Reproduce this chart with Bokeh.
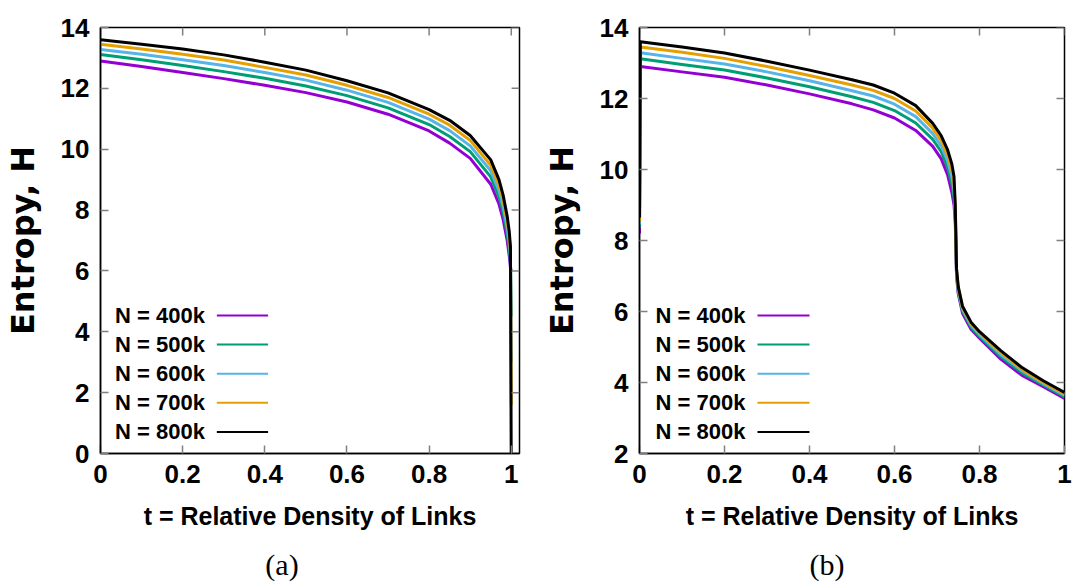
from bokeh.plotting import figure
from bokeh.layouts import row, column
from bokeh.models import Range1d, FixedTicker, ColumnDataSource, NumeralTickFormatter
from bokeh.core.properties import value
from bokeh.embed import file_html
from bokeh.resources import INLINE

# ---------------- data ----------------
series_names = ["N = 400k", "N = 500k", "N = 600k", "N = 700k", "N = 800k"]
series_colors = ["#9400d3", "#009e73", "#56b4e9", "#e69f00", "#000000"]

# panel (a)
t_a = [0, 0.1, 0.2, 0.3, 0.4, 0.5, 0.6, 0.7, 0.8, 0.85, 0.9, 0.95, 0.97, 0.98, 0.99, 0.995, 0.998, 0.9998]
H_a_400k = [12.90, 12.72, 12.52, 12.32, 12.10, 11.86, 11.55, 11.15, 10.60, 10.20, 9.70, 8.85, 8.20, 7.70, 7.00, 6.50, 6.10, 6.00]
H_a_500k = [13.11, 12.94, 12.75, 12.55, 12.33, 12.08, 11.76, 11.36, 10.81, 10.42, 9.92, 9.09, 8.44, 7.94, 7.24, 6.74, 6.31, 4.50]
H_a_600k = [13.28, 13.12, 12.94, 12.75, 12.52, 12.27, 11.94, 11.54, 10.99, 10.61, 10.11, 9.29, 8.64, 8.14, 7.44, 6.94, 6.49, 3.00]
H_a_700k = [13.45, 13.29, 13.12, 12.93, 12.69, 12.44, 12.10, 11.70, 11.15, 10.79, 10.29, 9.47, 8.82, 8.32, 7.62, 7.12, 6.65, 1.60]
H_a_800k = [13.60, 13.45, 13.29, 13.10, 12.86, 12.60, 12.25, 11.85, 11.30, 10.95, 10.45, 9.65, 9.00, 8.50, 7.80, 7.30, 6.80, 0.00]

# panel (b)
t_b = [0, 0.002, 0.1, 0.2, 0.3, 0.4, 0.5, 0.55, 0.6, 0.65, 0.69, 0.71, 0.725, 0.735, 0.74, 0.743,
       0.746, 0.75, 0.76, 0.78, 0.8, 0.85, 0.9, 0.95, 1.0]
H_b_400k = [8.20, 12.90, 12.75, 12.60, 12.38, 12.13, 11.85, 11.68, 11.45, 11.10, 10.65, 10.30, 9.85, 9.35, 9.00, 8.50,
            7.00, 6.50, 5.95, 5.50, 5.25, 4.66, 4.20, 3.88, 3.55]
H_b_500k = [8.35, 13.12, 12.96, 12.80, 12.58, 12.33, 12.05, 11.89, 11.66, 11.31, 10.85, 10.50, 10.06, 9.59, 9.24, 8.65,
            7.06, 6.56, 6.01, 5.56, 5.30, 4.73, 4.27, 3.93, 3.60]
H_b_600k = [8.45, 13.29, 13.13, 12.97, 12.75, 12.50, 12.22, 12.07, 11.84, 11.49, 11.01, 10.66, 10.24, 9.79, 9.44, 8.78,
            7.11, 6.61, 6.06, 5.61, 5.35, 4.79, 4.33, 3.97, 3.64]
H_b_700k = [8.55, 13.45, 13.30, 13.13, 12.90, 12.65, 12.38, 12.23, 12.00, 11.65, 11.16, 10.81, 10.40, 9.97, 9.62, 8.90,
            7.16, 6.66, 6.11, 5.66, 5.39, 4.85, 4.37, 4.00, 3.68]
H_b_800k = [8.65, 13.60, 13.45, 13.28, 13.05, 12.80, 12.53, 12.38, 12.15, 11.80, 11.30, 10.95, 10.55, 10.15, 9.80, 9.00,
            7.20, 6.70, 6.15, 5.70, 5.43, 4.90, 4.42, 4.05, 3.72]

x_ticks = [0, 0.2, 0.4, 0.6, 0.8, 1]
y_ticks_a = [0, 2, 4, 6, 8, 10, 12, 14]
y_ticks_b = [2, 4, 6, 8, 10, 12, 14]

x_title = "t = Relative Density of Links"
y_title = "Entropy, H"
captions = ["(a)", "(b)"]

# ---------------- style / layout ----------------
SANS = "Liberation Sans"
WIDE = "DejaVu Sans"
SERIF = "Liberation Serif"
FRAME_W, FRAME_H = 425, 426
FIG_W, PANEL_H = 539, 545
CAP_H = 39
TOP = 27
TICK_LEN = 8


def make_panel(t, ys, xr, yr, yticks, left_border):
    p = figure(width=FIG_W, height=PANEL_H, x_range=Range1d(*xr), y_range=Range1d(*yr),
               output_backend="svg", toolbar_location=None,
               min_border_left=left_border, min_border_right=FIG_W - left_border - FRAME_W,
               min_border_top=TOP, min_border_bottom=PANEL_H - TOP - FRAME_H)
    p.background_fill_color = "white"
    p.border_fill_color = "white"
    p.outline_line_color = "black"
    p.outline_line_width = 1.5
    p.grid.visible = False

    def px2x(px):
        return xr[0] + px / FRAME_W * (xr[1] - xr[0])

    def py2y(py):
        return yr[1] - py / FRAME_H * (yr[1] - yr[0])

    for name, col, y in zip(series_names, series_colors, ys):
        p.line(t, y, line_color=col, line_width=3, line_join="round")

    # axes
    for ax, ticks in ((p.xaxis[0], x_ticks), (p.yaxis[0], yticks)):
        ax.ticker = FixedTicker(ticks=ticks)
        ax.major_tick_in = TICK_LEN
        ax.major_tick_out = 0
        ax.major_tick_line_color = "#808080"
        ax.major_tick_line_width = 1.5
        ax.minor_tick_line_color = None
        ax.axis_line_color = "black"
        ax.axis_line_width = 1.5
        ax.major_label_text_font = SANS
        ax.major_label_text_font_style = "bold"
        ax.major_label_text_font_size = "26px"
        ax.major_label_text_color = "black"
        ax.major_label_standoff = 11
        ax.axis_label_text_color = "black"
    p.xaxis[0].formatter = NumeralTickFormatter(format="0.[0]")
    p.xaxis[0].axis_label = x_title
    p.xaxis[0].axis_label_text_font = SANS
    p.xaxis[0].axis_label_text_font_style = "bold"
    p.xaxis[0].axis_label_text_font_size = "25px"
    p.xaxis[0].axis_label_standoff = 16
    p.yaxis[0].axis_label = y_title
    p.yaxis[0].axis_label_text_font = WIDE
    p.yaxis[0].axis_label_text_font_style = "bold"
    p.yaxis[0].axis_label_text_font_size = "32px"
    p.yaxis[0].axis_label_standoff = 16

    # mirrored inward ticks on the top and right borders
    dx = TICK_LEN / FRAME_W * (xr[1] - xr[0])
    dy = TICK_LEN / FRAME_H * (yr[1] - yr[0])
    p.segment(x0=x_ticks, x1=x_ticks, y0=[yr[1]] * len(x_ticks), y1=[yr[1] - dy] * len(x_ticks),
              line_color="#808080", line_width=1.5)
    p.segment(x0=[xr[1]] * len(yticks), x1=[xr[1] - dx] * len(yticks), y0=yticks, y1=yticks,
              line_color="#808080", line_width=1.5)

    # legend (gnuplot style: text then line sample)
    rows_py = [288 + 29.1 * i for i in range(len(series_names))]
    src = ColumnDataSource(dict(
        x=[px2x(106)] * len(series_names),
        y=[py2y(v) for v in rows_py],
        x0=[px2x(118)] * len(series_names),
        x1=[px2x(170)] * len(series_names),
        name=series_names, color=series_colors))
    p.text(x="x", y="y", text="name", source=src, text_align="right", text_baseline="middle",
           text_font=value(SANS), text_font_style="bold", text_font_size="22px",
           text_color="black")
    p.segment(x0="x0", y0="y", x1="x1", y1="y", source=src, line_color="color", line_width=2)
    return p


pa = make_panel(t_a, [H_a_400k, H_a_500k, H_a_600k, H_a_700k, H_a_800k], (0, 1.02), (0, 14),
                y_ticks_a, 94)
pb = make_panel(t_b, [H_b_400k, H_b_500k, H_b_600k, H_b_700k, H_b_800k], (0, 1.0), (2, 14),
                y_ticks_b, 100)

# caption strip below the two panels, in pixel coordinates
cap = figure(width=2 * FIG_W, height=CAP_H, x_range=Range1d(0, 2 * FIG_W), y_range=Range1d(0, CAP_H),
             output_backend="svg", toolbar_location=None, x_axis_type=None, y_axis_type=None,
             min_border_left=0, min_border_right=0, min_border_top=0, min_border_bottom=0)
cap.outline_line_color = None
cap.grid.visible = False
cap.background_fill_color = "white"
cap.border_fill_color = "white"
cap.text(x=[281.5, 826.5], y=[20, 20], text=captions, text_align="center", text_baseline="middle",
         text_font=value(SERIF), text_font_size="30px", text_color="black")

layout = column(row(pa, pb), cap)
open("out.html", "w").write(file_html(layout, INLINE))
